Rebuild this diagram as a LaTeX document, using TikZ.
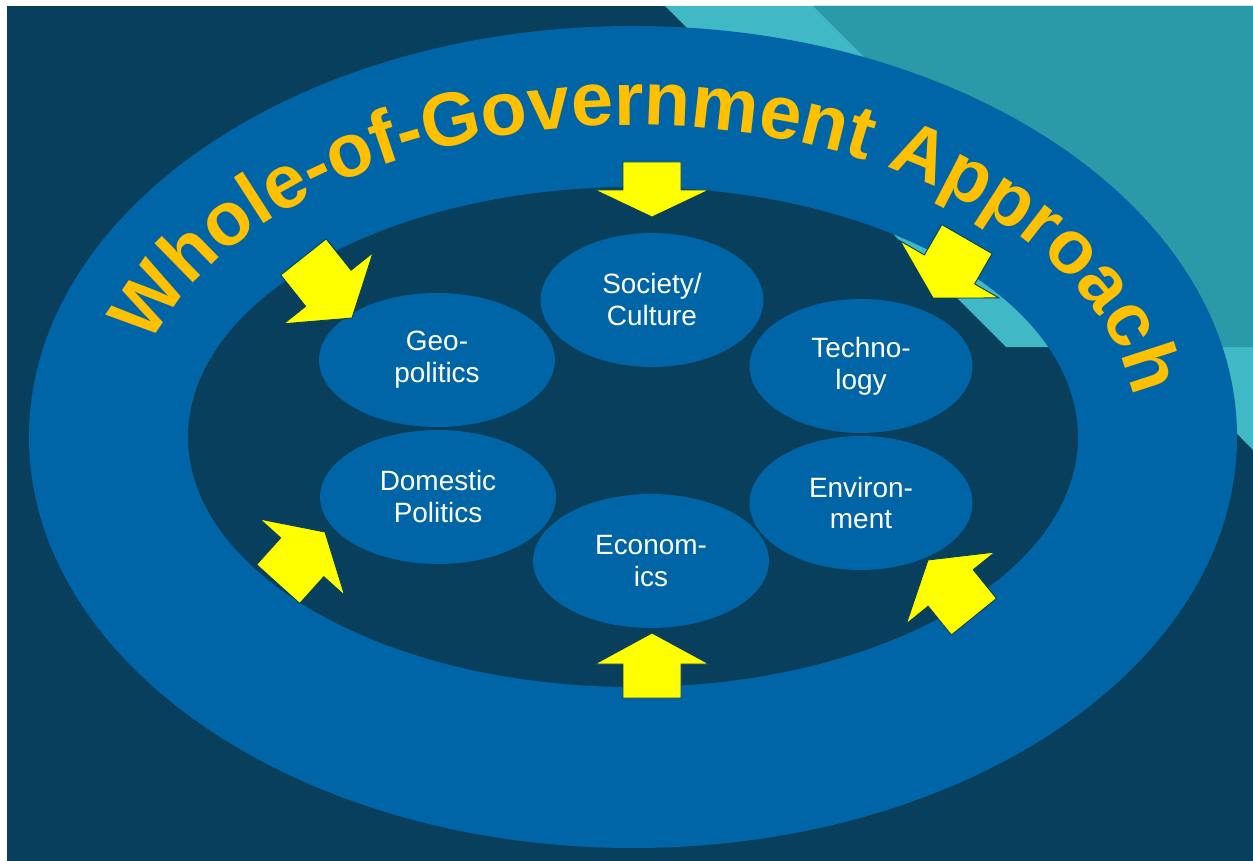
\documentclass[tikz,border=0pt]{standalone}
\usepackage{fontspec}
\setmainfont{Liberation Sans}
\usetikzlibrary{shapes.geometric,decorations.text}

\definecolor{bgnavy}{HTML}{073F5C}
\definecolor{ringblue}{HTML}{0065A6}
\definecolor{lightcyan}{HTML}{41B8C6}
\definecolor{darkteal}{HTML}{2A9AA8}
\definecolor{titlegold}{HTML}{FFC000}
\definecolor{arrowyellow}{HTML}{FFFF00}

\tikzset{
  topic/.style={ellipse, fill=ringblue, text=white, minimum width=4.72cm,
    minimum height=2.68cm, inner sep=0pt, align=center,
    font=\fontsize{15.9}{18.2}\selectfont},
  yarrow/.style={fill=arrowyellow, draw=bgnavy, line width=0.5pt},
}

% block arrow: tip x, tip y, angle, length, head length
\newcommand{\bigarrow}[5]{%
  \filldraw[yarrow, shift={(#1,#2)}, rotate=#3]
    (0,0) -- (-#5,57) -- (-#5,29) -- (-#4,29) -- (-#4,-29) -- (-#5,-29) -- (-#5,-57) -- cycle;
}

\begin{document}
\begin{tikzpicture}[x=0.02cm, y=-0.02cm]

\fill[white] (0,0) rectangle (1253,861);
\fill[bgnavy] (7,6) rectangle (1253,861);
\fill[lightcyan] (665,6) -- (1253,6) -- (1253,450) -- (1152,347) -- (1006,347) -- cycle;
\fill[darkteal] (813,6) -- (1253,6) -- (1253,347) -- (1154,347) -- cycle;

% the ring
\fill[ringblue, even odd rule] (633,437) ellipse [x radius=604, y radius=411]
  (633,437) ellipse [x radius=445, y radius=250];

\node[topic, minimum width=4.46cm] (soc) at (652,300) {Society/\\Culture};
\node[topic] (geo) at (437,360) {Geo-\\politics};
\node[topic, minimum width=4.46cm] (tech) at (861,366) {Techno-\\logy};
\node[topic] (dom) at (438,497) {Domestic\\Politics};
\node[topic, minimum width=4.46cm] (env) at (861,503) {Environ-\\ment};
\node[topic] (econ) at (651,561) {Econom-\\ics};

\bigarrow{652}{217}{-90}{55}{27}
\bigarrow{652}{633}{90}{65}{31}
\bigarrow{352}{318}{-51.5}{78}{38}
\bigarrow{933}{298}{-120}{68}{33}
\bigarrow{325}{532}{48}{70}{34}
\bigarrow{928}{560}{129}{73}{36}

% title on the ring
\path[decorate, decoration={text along path, text align=fit to path,
    text color=titlegold,
    text={|\fontsize{43}{51}\selectfont\bfseries|Whole-of-Government Approach}}]
  (150.1,345.8) arc [start angle=-163, end angle=-10, x radius=505, y radius=312];

\end{tikzpicture}
\end{document}
